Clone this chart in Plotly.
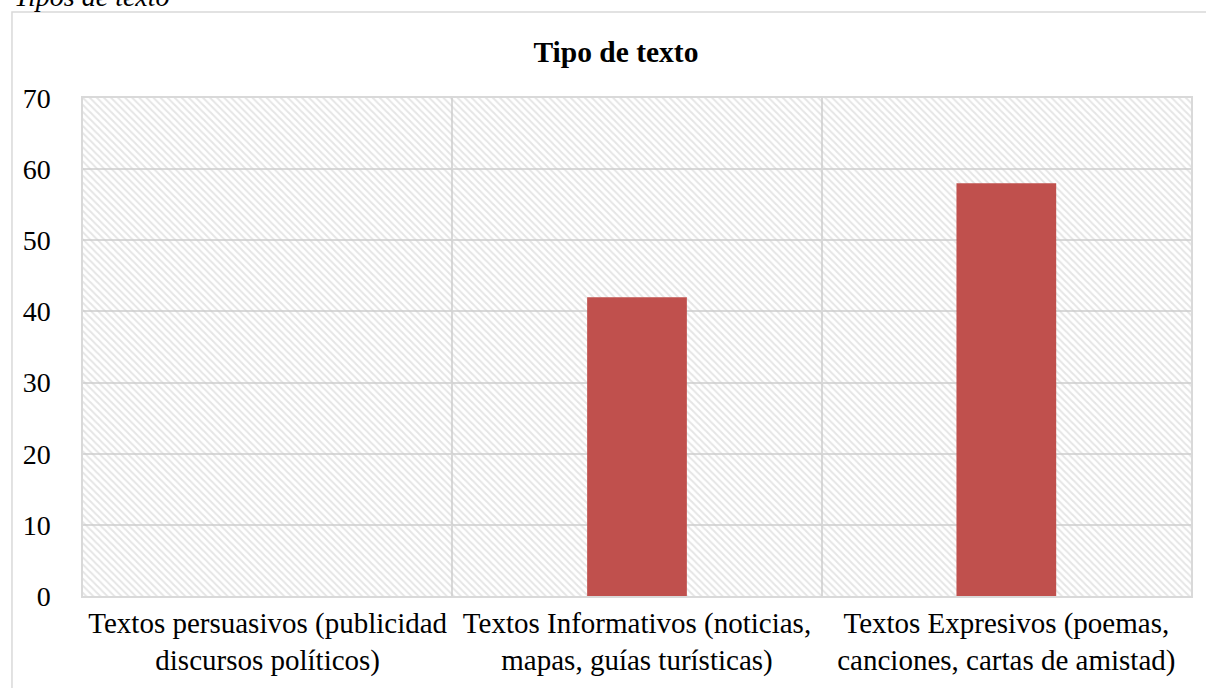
import plotly.graph_objects as go

categories = [
    "Textos persuasivos (publicidad<br>discursos políticos)",
    "Textos Informativos (noticias,<br>mapas, guías turísticas)",
    "Textos Expresivos (poemas,<br>canciones, cartas de amistad)",
]
values = [0, 42, 58]
y_max = 70
y_ticks = [0, 10, 20, 30, 40, 50, 60, 70]

FONT = "Liberation Serif, Times New Roman, serif"
GRID = "#d9d9d9"

fig = go.Figure()

# hatched plot background, like the Excel pattern fill
fig.add_trace(go.Bar(
    x=categories,
    y=[y_max] * len(categories),
    width=1,
    marker=dict(
        color="rgba(0,0,0,0)",
        line=dict(width=0),
        pattern=dict(shape="\\", fgcolor="#cccccc", bgcolor="rgba(0,0,0,0)",
                     size=5, solidity=0.4),
    ),
    hoverinfo="skip",
    showlegend=False,
))

fig.add_trace(go.Bar(
    x=categories,
    y=values,
    width=0.27,
    marker=dict(color="#c0504d", line=dict(width=0)),
    showlegend=False,
))

# outer chart frame
fig.add_shape(type="rect", xref="paper", yref="paper",
              x0=-0.0641, x1=1.2, y0=-0.3, y1=1.1727,
              line=dict(color=GRID, width=1.5), layer="below")

# caption above the chart, cut off by the top edge as in the source
fig.add_annotation(text="<i>Tipos de texto</i>", xref="paper", yref="paper",
                   x=-0.0641, y=1.2047, xanchor="left", yanchor="middle",
                   showarrow=False, font=dict(family=FONT, size=28, color="black"))

fig.update_layout(
    width=1206, height=688,
    margin=dict(l=83, r=15, t=98, b=92),
    paper_bgcolor="white",
    plot_bgcolor="white",
    barmode="overlay",
    title=dict(text="<b>Tipo de texto</b>", x=0.481, xref="paper", xanchor="center",
               y=1 - 52 / 688, yref="container", yanchor="middle",
               font=dict(family=FONT, size=29.5, color="black")),
    font=dict(family=FONT, color="black"),
)

fig.update_xaxes(
    type="category",
    tickson="boundaries",
    showgrid=True, gridcolor=GRID, gridwidth=1.5,
    showline=True, linecolor=GRID, linewidth=1.5, mirror=True,
    ticks="", tickfont=dict(family=FONT, size=29, color="black"),
)
fig.update_yaxes(
    range=[0, y_max], tickvals=y_ticks,
    showgrid=True, gridcolor=GRID, gridwidth=1.5,
    showline=True, linecolor=GRID, linewidth=1.5, mirror=True,
    zeroline=False, ticks="", ticklabelstandoff=25,
    tickfont=dict(family=FONT, size=28, color="black"),
)

fig.write_html("out.html", config={"displayModeBar": False},
               post_script="document.body.style.margin='0';")
